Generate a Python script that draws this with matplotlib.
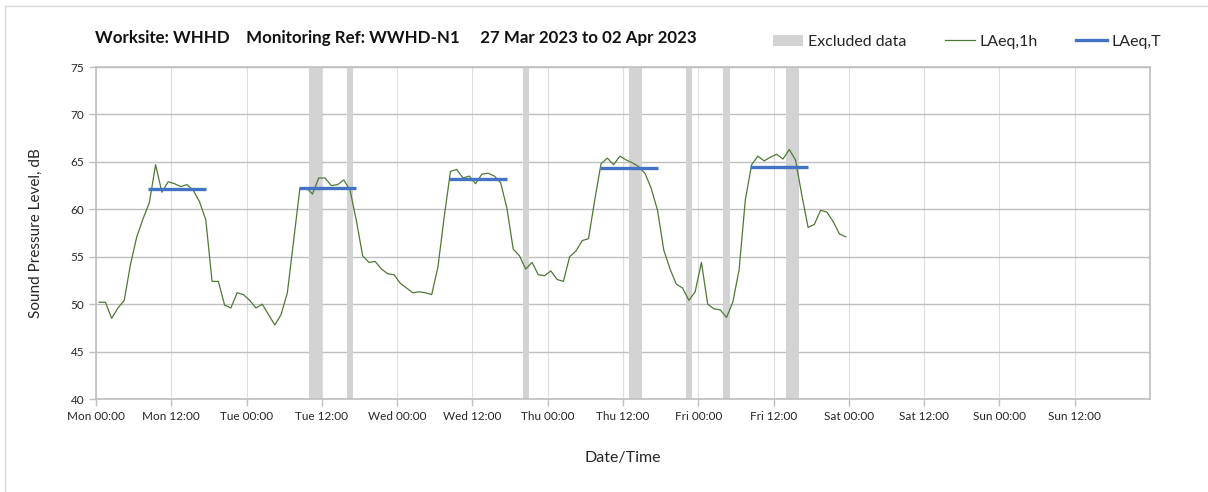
import matplotlib
matplotlib.use("Agg")
import matplotlib.pyplot as plt
from matplotlib.patches import Patch
from matplotlib.lines import Line2D
import numpy as np

plt.rcParams['font.family'] = ['Lato', 'DejaVu Sans']

# hourly LAeq,1h values, Mon 00:00 .. Fri 23:00
laeq_1h = [
    50.2, 50.2, 48.5, 49.6, 50.4, 54.2, 57.1, 59.0, 60.7, 64.7, 61.8, 62.9,
    62.7, 62.4, 62.6, 62.0, 60.8, 58.9, 52.4, 52.4, 49.9, 49.6, 51.2, 51.0,
    50.4, 49.6, 50.0, 48.9, 47.8, 48.9, 51.2, 56.7, 62.2, 62.3, 61.6, 63.3,
    63.3, 62.5, 62.6, 63.1, 62.0, 58.8, 55.1, 54.4, 54.5, 53.7, 53.2, 53.1,
    52.2, 51.7, 51.2, 51.3, 51.2, 51.0, 53.9, 59.2, 64.0, 64.2, 63.3, 63.5,
    62.7, 63.7, 63.8, 63.5, 62.8, 60.1, 55.8, 55.1, 53.7, 54.4, 53.1, 53.0,
    53.5, 52.6, 52.4, 55.0, 55.6, 56.7, 56.9, 61.0, 64.8, 65.4, 64.7, 65.6,
    65.2, 64.9, 64.5, 63.8, 62.2, 59.9, 55.7, 53.7, 52.1, 51.7, 50.4, 51.3,
    54.4, 50.0, 49.5, 49.4, 48.6, 50.2, 53.6, 61.0, 64.7, 65.6, 65.1, 65.5,
    65.8, 65.3, 66.3, 65.2, 61.5, 58.1, 58.4, 59.9, 59.7, 58.7, 57.4, 57.1,
]

# LAeq,T per weekday (daytime period)
laeq_t_days = [0, 1, 2, 3, 4]
laeq_t_levels = [62.1, 62.2, 63.2, 64.4, 64.5]
laeq_t_start = 8.3
laeq_t_end = 17.5

# excluded periods, hours from Mon 00:00
excl_start = [34, 40, 68, 85, 94, 100, 110]
excl_end = [36, 41, 69, 87, 95, 101, 112]

days = ["Mon", "Tue", "Wed", "Thu", "Fri", "Sat", "Sun"]
tick_labels = [f"{d} {t}" for d in days for t in ("00:00", "12:00")]

fig = plt.figure(figsize=(12.08, 4.92), dpi=100)
ax = fig.add_axes([96/1208, 1-399/492, (1150-96)/1208, (399-67)/492])

grey = '#D3D3D3'
for s, e in zip(excl_start, excl_end):
    ax.axvspan(s, e, color=grey, lw=0, zorder=1)

hours = np.arange(len(laeq_1h)) + 0.5
ax.plot(hours, laeq_1h, color='#4E7A35', lw=0.9, zorder=3)

for d, lv in zip(laeq_t_days, laeq_t_levels):
    ax.plot([d*24 + laeq_t_start, d*24 + laeq_t_end], [lv, lv],
            color='#4472C4', lw=2.4, solid_capstyle='butt', zorder=4)

ax.set_xlim(0, 168)
ax.set_ylim(40, 75)
ax.set_xticks(range(0, 168, 12))
ax.set_xticklabels(tick_labels)
ax.set_yticks(range(40, 76, 5))

ax.grid(axis='y', color='#BFBFBF', lw=1.0, zorder=0)
ax.grid(axis='x', color='#DDDDDD', lw=0.8, zorder=0)
ax.set_axisbelow(True)
for sp in ax.spines.values():
    sp.set_color('#BFBFBF')
    sp.set_linewidth(1.2)
ax.tick_params(axis='both', colors='#BFBFBF', labelcolor='#262626',
               labelsize=8.5, length=5, width=1)

ax.set_ylabel("Sound Pressure Level, dB", fontsize=11, color='#262626', labelpad=20)
ax.set_xlabel("Date/Time", fontsize=11.5, color='#262626', labelpad=21)

fig.text(95/1208, 1-38/492,
         "Worksite: WHHD    Monitoring Ref: WWHD-N1     27 Mar 2023 to 02 Apr 2023",
         fontsize=12.2, fontweight='bold', va='center', ha='left', color='#111111')

handles = [Patch(facecolor=grey, edgecolor='none'),
           Line2D([], [], color='#4E7A35', lw=0.9),
           Line2D([], [], color='#4472C4', lw=2.4)]
fig.legend(handles, ["Excluded data", "LAeq,1h", "LAeq,T"], ncol=3,
           loc='center', bbox_to_anchor=(967/1208, 1-42/492), frameon=False,
           fontsize=11.5, handlelength=1.9, handletextpad=0.3, columnspacing=2.4,
           labelcolor='#262626')

# faint figure border (left and top)
fig.add_artist(Line2D([5/1208, 5/1208], [0, 1-6/492], color='#D9D9D9', lw=1))
fig.add_artist(Line2D([5/1208, 1], [1-6/492, 1-6/492], color='#D9D9D9', lw=1))

fig.savefig("out.png", dpi=100)
